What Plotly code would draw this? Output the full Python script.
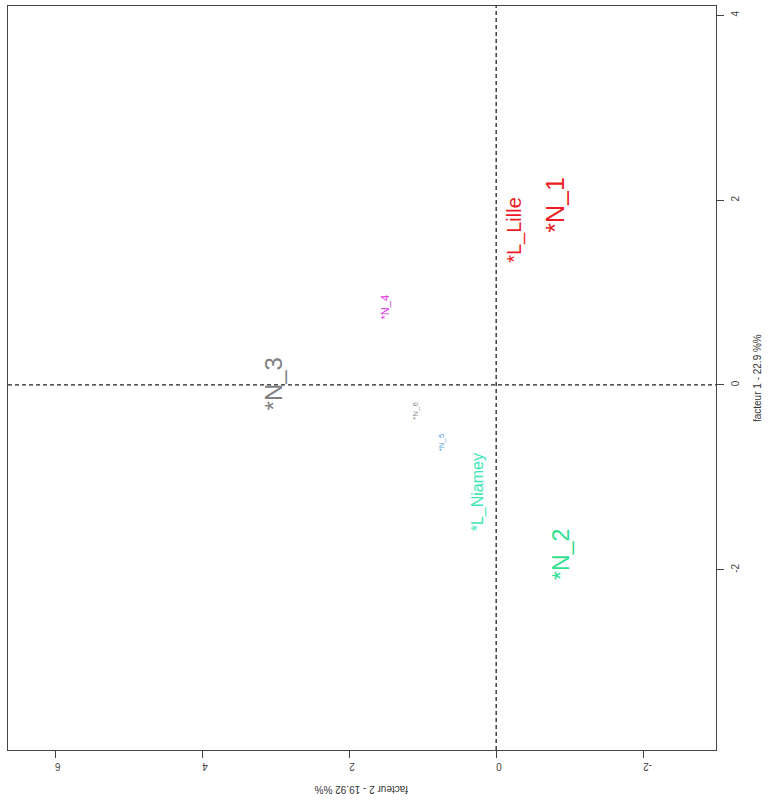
import plotly.graph_objects as go

# Data (factor 1 = vertical axis, factor 2 = horizontal axis, plot rotated)
labels = ["*N_1", "*L_Lille", "*N_2", "*L_Niamey", "*N_3", "*N_4", "*N_5", "*N_6"]
factor1 = [1.95, 1.68, -1.83, -1.16, 0.01, 0.84, -0.62, -0.28]
factor2 = [-0.80, -0.245, -0.88, 0.245, 3.03, 1.51, 0.75, 1.09]
colors = ["#ee1c25", "#ee1c25", "#2fe08f", "#3de6b4", "#808080", "#e22ee0", "#4a9fe4", "#8c8c8c"]
sizes = [25, 20, 23, 16, 24, 11, 8, 8]

f1_ticks = [-2, 0, 2, 4]
f2_ticks = [-2, 0, 2, 4, 6]
f1_title = "facteur 1 - 22.9 %%"
f2_title = "facteur 2 - 19.92 %%"

fig = go.Figure()
fig.add_trace(go.Scatter(x=factor2, y=factor1, mode="markers",
                         marker=dict(size=1, opacity=0), hoverinfo="skip", showlegend=False))

for lab, a, b, c, s in zip(labels, factor1, factor2, colors, sizes):
    fig.add_annotation(x=b, y=a, xref="x", yref="y", text=lab, showarrow=False,
                       textangle=-90, font=dict(family="Liberation Sans, Arial", size=s, color=c),
                       xanchor="center", yanchor="middle")

fig.add_shape(type="line", xref="x", yref="paper", x0=0, x1=0, y0=0, y1=1,
              line=dict(color="#222", width=1.3, dash="4px,3px"))
fig.add_shape(type="line", xref="paper", yref="y", x0=0, x1=1, y0=0, y1=0,
              line=dict(color="#222", width=1.3, dash="4px,3px"))

fig.add_annotation(x=1.058, y=0.5, xref="paper", yref="paper", text=f1_title, showarrow=False,
                   xanchor="center", yanchor="middle",
                   textangle=-90, font=dict(family="Liberation Sans, Arial", size=10, color="#333"))
fig.add_annotation(x=0.5, y=-0.054, xref="paper", yref="paper", text=f2_title, showarrow=False,
                   xanchor="center", yanchor="middle",
                   textangle=180, font=dict(family="Liberation Sans, Arial", size=10, color="#333"))

axis_common = dict(showgrid=False, zeroline=False, showline=True, mirror=True,
                   linecolor="#444", linewidth=1.3, ticks="outside", ticklen=7,
                   tickcolor="#444", tickwidth=1.3, ticklabelstandoff=3,
                   tickfont=dict(family="Liberation Sans, Arial", size=10, color="#444"))

fig.update_xaxes(range=[6.64, -2.99], tickvals=f2_ticks, ticktext=[str(v) for v in f2_ticks],
                 tickangle=180, **axis_common)
fig.update_yaxes(range=[-3.95, 4.10], side="right", tickvals=f1_ticks,
                 ticktext=[str(v) for v in f1_ticks], tickangle=-90, **axis_common)

fig.update_layout(width=770, height=807, margin=dict(l=8, r=54, t=6, b=57),
                  plot_bgcolor="white", paper_bgcolor="white", showlegend=False)

fig.write_html("out.html", config={"displayModeBar": False},
               post_script="document.body.style.margin='0';")
